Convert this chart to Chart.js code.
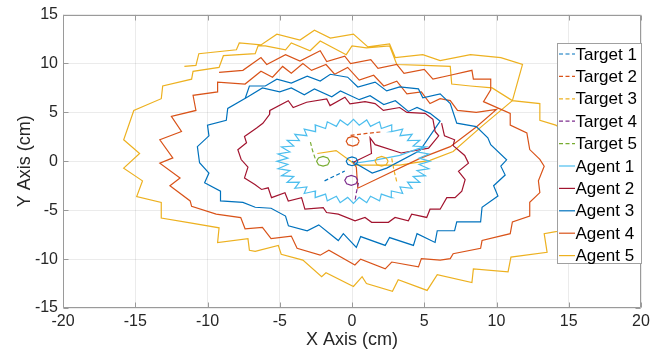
<!DOCTYPE html>
<html><head><meta charset="utf-8">
<script src="https://cdn.jsdelivr.net/npm/chart.js@4.4.0/dist/chart.umd.min.js"></script>
<style>html,body{margin:0;padding:0;background:#fff}canvas{display:block}</style>
</head><body>
<canvas id="c" width="669" height="364"></canvas>
<script>
const xTicks = [-20,-15,-10,-5,0,5,10,15,20];
const yTicks = [-15,-10,-5,0,5,10,15];
const seriesLabels = ['Target 1','Target 2','Target 3','Target 4','Target 5','Agent 1','Agent 2','Agent 3','Agent 4','Agent 5'];

const target1Path = [[-1.9,-2.0],[-1.2,-1.5],[-0.5,-1.0]];
const target2Path = [[-0.1,2.65],[1.0,2.85],[2.0,3.0]];
const target3Path = [[2.75,0.3],[2.9,-0.9],[3.1,-2.1]];
const target4Path = [[0.45,-2.2],[0.3,-3.2],[0.2,-4.1]];
const target5Path = [[-2.55,0.3],[-2.75,1.2],[-2.9,2.1]];

const target1Ring = [[0.4,0],[0.28,0.32],[0,0.45],[-0.28,0.32],[-0.4,0],[-0.28,-0.32],[0,-0.45],[0.28,-0.32],[0.4,0]];
const target2Ring = [[0.5,2.05],[0.37,2.4],[0.05,2.55],[-0.27,2.4],[-0.4,2.05],[-0.27,1.7],[0.05,1.55],[0.37,1.7],[0.5,2.05]];
const target3Ring = [[2.5,0],[2.37,0.35],[2.05,0.5],[1.73,0.35],[1.6,0],[1.73,-0.35],[2.05,-0.5],[2.37,-0.35],[2.5,0]];
const target4Ring = [[0.4,-1.95],[0.27,-1.6],[-0.05,-1.45],[-0.37,-1.6],[-0.5,-1.95],[-0.37,-2.3],[-0.05,-2.45],[0.27,-2.3],[0.4,-1.95]];
const target5Ring = [[-1.55,0],[-1.68,0.35],[-2.0,0.5],[-2.32,0.35],[-2.45,0],[-2.32,-0.35],[-2.0,-0.5],[-1.68,-0.35],[-1.55,0]];

const agent1 = [[0.2,-0.2],[1.5,0.1],[3.3,0.6],[4.6,1.3],
[5.08,1.47],[4.23,1.56],[4.69,2.15],[3.84,2.12],[4.16,2.76],[3.32,2.62],[3.51,3.29],[2.72,3.03],[2.75,3.72],[2.03,3.35],[1.91,4.04],[1.28,3.57],[1.02,4.23],[0.50,3.69],[0.10,4.30],[-0.30,3.69],[-0.82,4.23],[-1.08,3.57],[-1.71,4.04],[-1.83,3.35],[-2.55,3.72],[-2.52,3.03],[-3.31,3.29],[-3.12,2.62],[-3.96,2.76],[-3.64,2.12],[-4.49,2.15],[-4.03,1.56],[-4.88,1.47],[-4.30,0.96],[-5.12,0.75],[-4.44,0.32],[-5.20,0.0],[-4.44,-0.32],[-5.12,-0.75],[-4.30,-0.96],[-4.88,-1.47],[-4.03,-1.56],[-4.49,-2.15],[-3.64,-2.12],[-3.96,-2.76],[-3.12,-2.62],[-3.31,-3.29],[-2.52,-3.03],[-2.55,-3.72],[-1.83,-3.35],[-1.71,-4.04],[-1.08,-3.57],[-0.82,-4.23],[-0.30,-3.69],[0.10,-4.30],[0.50,-3.69],[1.02,-4.23],[1.28,-3.57],[1.91,-4.04],[2.03,-3.35],[2.75,-3.72],[2.72,-3.03],[3.51,-3.29],[3.32,-2.62],[4.16,-2.76],[3.84,-2.12],[4.69,-2.15],[4.23,-1.56],[5.08,-1.47],[4.50,-0.96],[5.32,-0.75],[4.64,-0.32],[5.40,0.0],[4.64,0.32],[5.32,0.75],[4.50,0.96],[5.08,1.47]];

const agent2 = [[0.1,-0.1],[1.35,0.8],[1.25,2.4],[1.6,1.7],[3.4,0.85],[5.3,1.35],[6.0,2.6],[5.75,3.05],[5.6,4.3],[5.05,4.9],[3.8,5.0],[3.3,5.5],[2.17,5.2],[1.6,5.9],[0.9,6.1],[-0.14,5.88],[-0.49,6.55],[-1.52,5.7],[-1.75,6.38],[-3.14,6.04],[-4.07,5.5],[-4.41,6.2],[-5.68,5.2],[-5.7,4.8],[-6.17,3.89],[-6.6,3.4],[-7.44,2.54],[-7.3,1.9],[-7.9,1.19],[-7.67,0.18],[-7.2,-0.6],[-7.44,-1.7],[-6.72,-2.37],[-6.26,-2.88],[-5.8,-2.71],[-5.57,-3.72],[-4.64,-3.22],[-4.41,-4.06],[-3.49,-3.72],[-3.26,-4.9],[-1.99,-4.73],[-1.76,-5.24],[-0.95,-5.4],[0.21,-6.08],[0.9,-5.74],[1.36,-6.24],[2.52,-6.24],[2.98,-5.74],[3.9,-6.08],[4.13,-5.4],[5.17,-5.74],[5.4,-4.9],[6.1,-4.9],[6.56,-3.72],[7.13,-3.72],[7.6,-3.05],[7.83,-1.87],[7.37,-1.03],[8.06,-0.19],[7.8,0.6],[7.0,1.6],[7.1,2.2],[6.4,2.6],[6.2,3.9]];

const agent3 = [[0.0,0.0],[1.4,-1.2],[2.4,-0.7],[4.7,1.1],[6.1,4.1],[5.4,4.9],
[4.5,5.5],[3.9,5.1],[3.0,6.2],[2.2,5.8],[1.25,6.7],[0.5,6.3],[-0.8,7.2],[-1.4,6.6],[-2.6,7.4],[-3.3,6.8],[-4.2,7.5],[-5.0,7.1],[-6.2,7.5],[-7.2,6.6],[-8.6,5.4],[-8.7,4.2],[-10.0,3.7],[-9.9,2.6],[-10.7,1.5],[-10.55,-0.15],[-9.9,-1.2],[-10.2,-2.2],[-9.1,-3.05],[-9.1,-4.05],[-7.55,-4.2],[-6.7,-4.7],[-5.6,-4.8],[-4.6,-5.6],[-4.4,-6.6],[-3.1,-7.1],[-2.3,-6.5],[-0.95,-8.1],[-0.6,-7.4],[0.3,-8.8],[0.6,-7.7],[2.3,-8.6],[2.6,-7.8],[4.25,-8.6],[4.5,-7.4],[5.75,-8.3],[5.9,-7.1],[7.1,-7.1],[7.25,-6.2],[8.9,-6.2],[9.0,-4.7],[10.1,-3.55],[9.8,-2.5],[10.6,-1.4],[10.3,-0.5],[10.7,0.15],[9.6,1.7],[9.4,2.4],[8.6,3.55],[7.25,3.9],[6.8,5.9],[6.1,6.9],
[4.9,6.5],[4.6,7.4],[3.3,7.6],[2.4,7.2],[1.6,8.1],[0.4,7.6],[-0.3,8.6],[-1.5,8.9],[-2.2,8.2],[-3.1,8.7],[-4.2,8.0],[-5.2,8.4],[-6.0,7.7],[-7.1,7.7],[-7.4,6.4]];

const agent4 = [[0.1,-0.2],[0.3,-0.6],[0.4,-2.75],[4.7,0.3],[6.8,1.5],[8.6,3.5],[10.0,5.3],
[8.6,5.0],[7.3,5.2],[6.8,6.2],[6.1,6.4],[5.4,5.9],[4.8,7.1],[3.8,6.9],[3.1,8.2],[2.2,7.7],[1.5,8.8],[0.5,8.3],[-0.3,9.6],[-1.2,8.9],[-1.8,9.9],[-2.8,9.3],[-3.4,10.0],[-4.2,9.0],[-4.8,9.7],[-5.5,8.6],[-6.3,9.2],[-7.4,7.9],[-9.3,8.1],[-9.3,7.1],[-11.0,6.75],[-10.8,5.2],[-12.5,4.6],[-11.8,3.05],[-13.3,2.2],[-12.4,0.35],[-13.3,-0.2],[-11.9,-1.7],[-12.6,-2.5],[-11.2,-4.05],[-11.1,-4.6],[-9.4,-5.4],[-7.7,-5.75],[-7.4,-6.9],[-6.2,-6.75],[-5.6,-7.9],[-4.2,-7.65],[-3.8,-8.9],[-2.2,-9.6],[-1.6,-9.1],[0.2,-10.6],[0.6,-10.0],[2.3,-11.0],[2.75,-10.3],[4.6,-10.8],[4.8,-9.95],[6.1,-10.1],[6.8,-9.95],[7.0,-9.45],[8.9,-8.9],[9.0,-8.1],[10.95,-7.4],[11.1,-6.2],[12.3,-5.6],[12.3,-4.2],[13.0,-3.2],[12.9,-2.0],[13.3,-0.5],[13.0,0.2],[12.3,1.2],[12.1,2.9],[10.95,3.7],[10.95,4.9],[9.1,6.1],[9.6,7.3],[9.6,8.4],[8.4,8.4],[8.3,9.3],[6.8,8.8],
[5.6,8.4],[5.0,9.4],[3.6,9.0],[3.1,9.9],[1.8,9.5],[1.3,10.4],[-0.1,10.0],[-0.5,10.75],[-1.75,10.2],[-2.2,11.3],[-3.6,10.25],[-4.6,10.9],[-5.9,9.9],[-6.3,10.6],[-7.55,9.3],[-9.2,9.1]];

const agent5 = [[-2.4,0.8],[-1.1,1.1],[0.1,-0.2],[0.3,-0.4],[3.3,-0.4],[5.4,0.1],[7.0,1.0],[9.0,3.6],[11.1,6.2],
[9.7,7.5],[8.2,7.7],[6.9,7.9],[6.8,9.7],[5.0,9.8],[3.1,9.9],[2.6,11.8],[1.0,11.6],[0.0,11.8],[-0.4,10.9],[-2.2,12.3],[-2.9,11.3],[-4.2,12.1],[-4.6,11.4],[-6.0,11.8],[-6.5,11.8],[-6.7,11.0],[-8.9,10.8],[-9.2,9.6],[-11.0,9.2],[-11.1,8.4],[-13.1,7.7],[-13.2,6.4],[-15.1,5.2],[-15.8,2.2],[-14.7,0.8],[-15.8,-0.7],[-14.5,-2.0],[-14.9,-3.6],[-13.2,-4.2],[-13.2,-5.8],[-11.2,-6.3],[-9.2,-6.8],[-9.3,-8.3],[-7.2,-7.9],[-7.1,-9.1],[-6.7,-9.2],[-5.1,-8.6],[-4.9,-9.5],[-3.4,-10.1],[-2.1,-11.8],[-1.8,-11.4],[0.1,-12.8],[0.7,-11.8],[1.0,-12.5],[2.8,-13.3],[3.2,-12.1],[5.2,-13.2],[5.9,-11.6],[8.3,-12.4],[8.4,-11.0],[10.8,-11.3],[11.0,-9.8],[13.5,-9.3],[13.3,-7.4],[14.1,-7.2],[15.4,-6.8],[15.0,-4.8],[15.9,-4.2],[15.4,-2.2],[16.0,-1.6],[15.4,0.5],[15.8,1.2],[14.9,3.0],[14.1,3.7],[13.0,4.2],[13.0,5.9],[11.1,6.2],[11.8,9.9],[10.3,10.6],[8.2,10.9],[6.1,10.3],[4.9,10.9],[3.0,10.6],[2.6,12.0],[1.1,11.7],[0.1,13.0],[-1.5,12.6],[-2.6,13.4],[-3.6,12.4],[-5.2,13.0],[-6.3,11.9],[-7.8,12.1],[-8.0,11.4],[-10.6,11.0],[-10.8,9.8],[-11.6,9.7]];

const colors = ['#0072BD','#D95319','#EDB120','#7E2F8E','#77AC30','#4DBEEE','#A2142F','#0072BD','#D95319','#EDB120'];
const targetPaths = [target1Path,target2Path,target3Path,target4Path,target5Path];
const targetRings = [target1Ring,target2Ring,target3Ring,target4Ring,target5Ring];
const agentPaths = [agent1,agent2,agent3,agent4,agent5];

const toXY = a => a.map(p => ({x:p[0], y:p[1]}));
const FONT = "'Liberation Sans', Arial, Helvetica, sans-serif";
Chart.defaults.font.family = FONT;

const datasets = [];
targetPaths.forEach((p,i) => datasets.push({label:seriesLabels[i], data:toXY(p), borderColor:colors[i], borderDash:[4,2.5], inLegend:true}));
targetRings.forEach((p,i) => datasets.push({label:'', data:toXY(p), borderColor:colors[i], inLegend:false}));
agentPaths.forEach((p,i) => datasets.push({label:seriesLabels[5+i], data:toXY(p), borderColor:colors[5+i], inLegend:true}));
datasets.forEach(d => Object.assign(d, {showLine:true, pointRadius:0, borderWidth:1.2, tension:0, fill:false}));

const framePlugin = {
  id:'frame',
  afterDatasetsDraw(chart){
    const {ctx, chartArea:a, scales:{x,y}} = chart;
    ctx.save();
    ctx.strokeStyle = '#9a9a9a'; ctx.lineWidth = 1;
    ctx.beginPath();
    const L=Math.round(a.left)+0.5, R=Math.round(a.right)-0.5, T=Math.round(a.top)+0.5, B=Math.round(a.bottom)-0.5;
    ctx.rect(L,T,R-L,B-T);
    xTicks.forEach(v => { const px=Math.round(x.getPixelForValue(v))+0.5; ctx.moveTo(px,B); ctx.lineTo(px,B-5); ctx.moveTo(px,T); ctx.lineTo(px,T+5); });
    yTicks.forEach(v => { const py=Math.round(y.getPixelForValue(v))+0.5; ctx.moveTo(L,py); ctx.lineTo(L+5,py); ctx.moveTo(R,py); ctx.lineTo(R-5,py); });
    ctx.stroke();
    ctx.restore();
  }
};

const legendPlugin = {
  id:'matLegend',
  afterDraw(chart){
    const {ctx, chartArea:a} = chart;
    const items = chart.data.datasets.filter(d => d.inLegend);
    const bw=85, bh=221, bx=Math.round(a.right)-84, by=Math.round(a.top)+28, rowH=22.4;
    ctx.save();
    ctx.fillStyle='#fff'; ctx.fillRect(bx,by,bw,bh);
    ctx.strokeStyle='#a0a0a0'; ctx.lineWidth=1; ctx.strokeRect(bx+0.5,by+0.5,bw-1,bh-1);
    ctx.font = "17px " + FONT; ctx.textBaseline='middle'; ctx.textAlign='left';
    items.forEach((d,i) => {
      const cy = by + 11 + i*rowH;
      ctx.strokeStyle=d.borderColor; ctx.lineWidth=1.2;
      ctx.setLineDash(d.borderDash || []);
      ctx.beginPath(); ctx.moveTo(bx+2,cy); ctx.lineTo(bx+18,cy); ctx.stroke();
      ctx.setLineDash([]);
      ctx.fillStyle='#000'; ctx.fillText(d.label, bx+18.5, cy+1);
    });
    ctx.restore();
  }
};

new Chart(document.getElementById('c'), {
  type:'scatter',
  data:{datasets},
  options:{
    responsive:false, animation:false,
    layout:{padding:{left:0,right:28,top:11,bottom:0}},
    plugins:{legend:{display:false}, tooltip:{enabled:false}},
    scales:{
      x:{type:'linear', min:-20, max:20,
        afterBuildTicks: s => { s.ticks = xTicks.map(v => ({value:v})); },
        afterFit: s => { s.height = 56; },
        ticks:{color:'#262626', font:{size:16}, padding:4, maxRotation:0, autoSkip:false},
        grid:{color:'rgba(0,0,0,0.08)', drawTicks:false}, border:{display:false},
        title:{display:true, text:'X Axis (cm)', color:'#262626', font:{size:18}, padding:{top:0,bottom:13}}},
      y:{type:'linear', min:-15, max:15,
        afterBuildTicks: s => { s.ticks = yTicks.map(v => ({value:v})); },
        afterFit: s => { s.width = 63; },
        ticks:{color:'#262626', font:{size:16}, padding:5, autoSkip:false},
        grid:{color:'rgba(0,0,0,0.08)', drawTicks:false}, border:{display:false},
        title:{display:true, text:'Y Axis (cm)', color:'#262626', font:{size:18}, padding:{top:14,bottom:0}}}
    }
  },
  plugins:[framePlugin, legendPlugin]
});
</script>
</body></html>
